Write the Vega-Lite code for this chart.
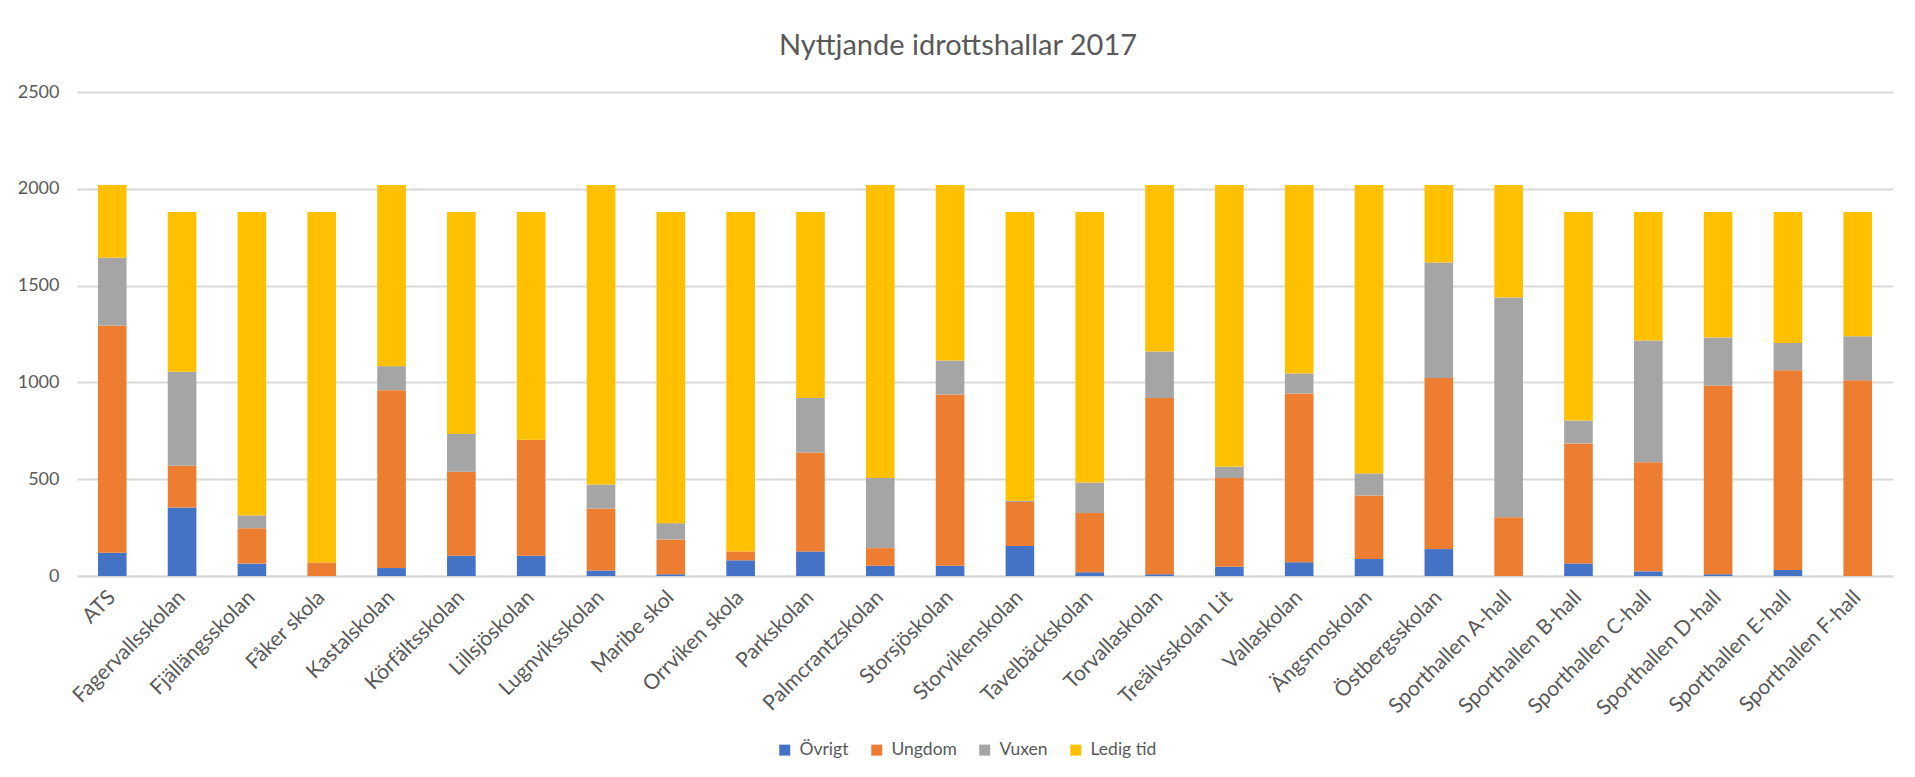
{
  "$schema": "https://vega.github.io/schema/vega-lite/v6.json",
  "width": 1816,
  "height": 484,
  "autosize": {"type": "none"},
  "padding": {"left": 77, "top": 92, "right": 22, "bottom": 201},
  "background": "white",
  "title": {
    "text": "Nyttjande idrottshallar 2017",
    "font": "Lato",
    "fontSize": 29,
    "fontWeight": "normal",
    "color": "#595959",
    "anchor": "middle",
    "frame": "group",
    "dx": -27,
    "offset": 22
  },
  "data": {
    "values": [
      {"skola": "ATS", "Övrigt": 120, "Ungdom": 1174, "Vuxen": 350, "Ledig tid": 376},
      {"skola": "Fagervallsskolan", "Övrigt": 354, "Ungdom": 215, "Vuxen": 486, "Ledig tid": 825},
      {"skola": "Fjällängsskolan", "Övrigt": 64, "Ungdom": 183, "Vuxen": 66, "Ledig tid": 1567},
      {"skola": "Fåker skola", "Övrigt": 0, "Ungdom": 70, "Vuxen": 0, "Ledig tid": 1810},
      {"skola": "Kastalskolan", "Övrigt": 41, "Ungdom": 919, "Vuxen": 124, "Ledig tid": 936},
      {"skola": "Körfältsskolan", "Övrigt": 105, "Ungdom": 434, "Vuxen": 195, "Ledig tid": 1146},
      {"skola": "Lillsjöskolan", "Övrigt": 105, "Ungdom": 599, "Vuxen": 0, "Ledig tid": 1176},
      {"skola": "Lugnviksskolan", "Övrigt": 29, "Ungdom": 320, "Vuxen": 123, "Ledig tid": 1548},
      {"skola": "Maribe skol", "Övrigt": 9, "Ungdom": 180, "Vuxen": 84, "Ledig tid": 1607},
      {"skola": "Orrviken skola", "Övrigt": 81, "Ungdom": 46, "Vuxen": 0, "Ledig tid": 1753},
      {"skola": "Parkskolan", "Övrigt": 127, "Ungdom": 511, "Vuxen": 282, "Ledig tid": 960},
      {"skola": "Palmcrantzskolan", "Övrigt": 53, "Ungdom": 91, "Vuxen": 362, "Ledig tid": 1514},
      {"skola": "Storsjöskolan", "Övrigt": 53, "Ungdom": 884, "Vuxen": 176, "Ledig tid": 907},
      {"skola": "Storvikenskolan", "Övrigt": 155, "Ungdom": 227, "Vuxen": 7, "Ledig tid": 1491},
      {"skola": "Tavelbäckskolan", "Övrigt": 19, "Ungdom": 306, "Vuxen": 158, "Ledig tid": 1397},
      {"skola": "Torvallaskolan", "Övrigt": 9, "Ungdom": 911, "Vuxen": 239, "Ledig tid": 861},
      {"skola": "Treälvsskolan Lit", "Övrigt": 48, "Ungdom": 458, "Vuxen": 58, "Ledig tid": 1456},
      {"skola": "Vallaskolan", "Övrigt": 71, "Ungdom": 872, "Vuxen": 103, "Ledig tid": 974},
      {"skola": "Ängsmoskolan", "Övrigt": 88, "Ungdom": 328, "Vuxen": 114, "Ledig tid": 1490},
      {"skola": "Östbergsskolan", "Övrigt": 139, "Ungdom": 884, "Vuxen": 596, "Ledig tid": 401},
      {"skola": "Sporthallen A-hall", "Övrigt": 0, "Ungdom": 303, "Vuxen": 1135, "Ledig tid": 582},
      {"skola": "Sporthallen B-hall", "Övrigt": 65, "Ungdom": 620, "Vuxen": 118, "Ledig tid": 1077},
      {"skola": "Sporthallen C-hall", "Övrigt": 24, "Ungdom": 563, "Vuxen": 629, "Ledig tid": 664},
      {"skola": "Sporthallen D-hall", "Övrigt": 9, "Ungdom": 975, "Vuxen": 248, "Ledig tid": 648},
      {"skola": "Sporthallen E-hall", "Övrigt": 31, "Ungdom": 1032, "Vuxen": 141, "Ledig tid": 676},
      {"skola": "Sporthallen F-hall", "Övrigt": 0, "Ungdom": 1011, "Vuxen": 227, "Ledig tid": 642}
    ]
  },
  "transform": [
    {"fold": ["Övrigt", "Ungdom", "Vuxen", "Ledig tid"], "as": ["kategori", "timmar"]},
    {"calculate": "indexof(['Övrigt','Ungdom','Vuxen','Ledig tid'], datum.kategori)", "as": "ordning"}
  ],
  "mark": {"type": "bar"},
  "encoding": {
    "x": {
      "field": "skola",
      "type": "nominal",
      "sort": null,
      "scale": {"paddingInner": 0.59, "paddingOuter": 0.3},
      "axis": {
        "title": null,
        "labelAngle": -45,
        "labelAlign": "right",
        "labelBaseline": "middle",
        "labelFont": "Lato",
        "labelFontSize": 21,
        "labelColor": "#595959",
        "labelPadding": 18,
        "ticks": false,
        "domainColor": "#d9d9d9",
        "domainWidth": 2,
        "grid": false
      }
    },
    "y": {
      "field": "timmar",
      "type": "quantitative",
      "stack": "zero",
      "scale": {"domain": [0, 2500], "nice": false},
      "axis": {
        "title": null,
        "values": [0, 500, 1000, 1500, 2000, 2500],
        "format": "d",
        "labelFont": "Lato",
        "labelFontSize": 18,
        "labelColor": "#595959",
        "labelPadding": 18,
        "ticks": false,
        "domain": false,
        "grid": true,
        "gridColor": "#d9d9d9",
        "gridWidth": 2
      }
    },
    "color": {
      "field": "kategori",
      "type": "nominal",
      "sort": ["Övrigt", "Ungdom", "Vuxen", "Ledig tid"],
      "scale": {
        "domain": ["Övrigt", "Ungdom", "Vuxen", "Ledig tid"],
        "range": ["#4472C4", "#ED7D31", "#A5A5A5", "#FFC000"]
      },
      "legend": {
        "title": null,
        "orient": "none",
        "direction": "horizontal",
        "legendX": 699,
        "legendY": 649,
        "padding": 0,
        "symbolType": "square",
        "symbolSize": 121,
        "symbolStrokeWidth": 0,
        "labelFont": "Lato",
        "labelFontSize": 17.5,
        "labelColor": "#595959",
        "labelOffset": 6,
        "columnPadding": 19
      }
    },
    "order": {"field": "ordning", "type": "quantitative", "sort": "ascending"}
  },
  "config": {
    "view": {"stroke": null}
  }
}
